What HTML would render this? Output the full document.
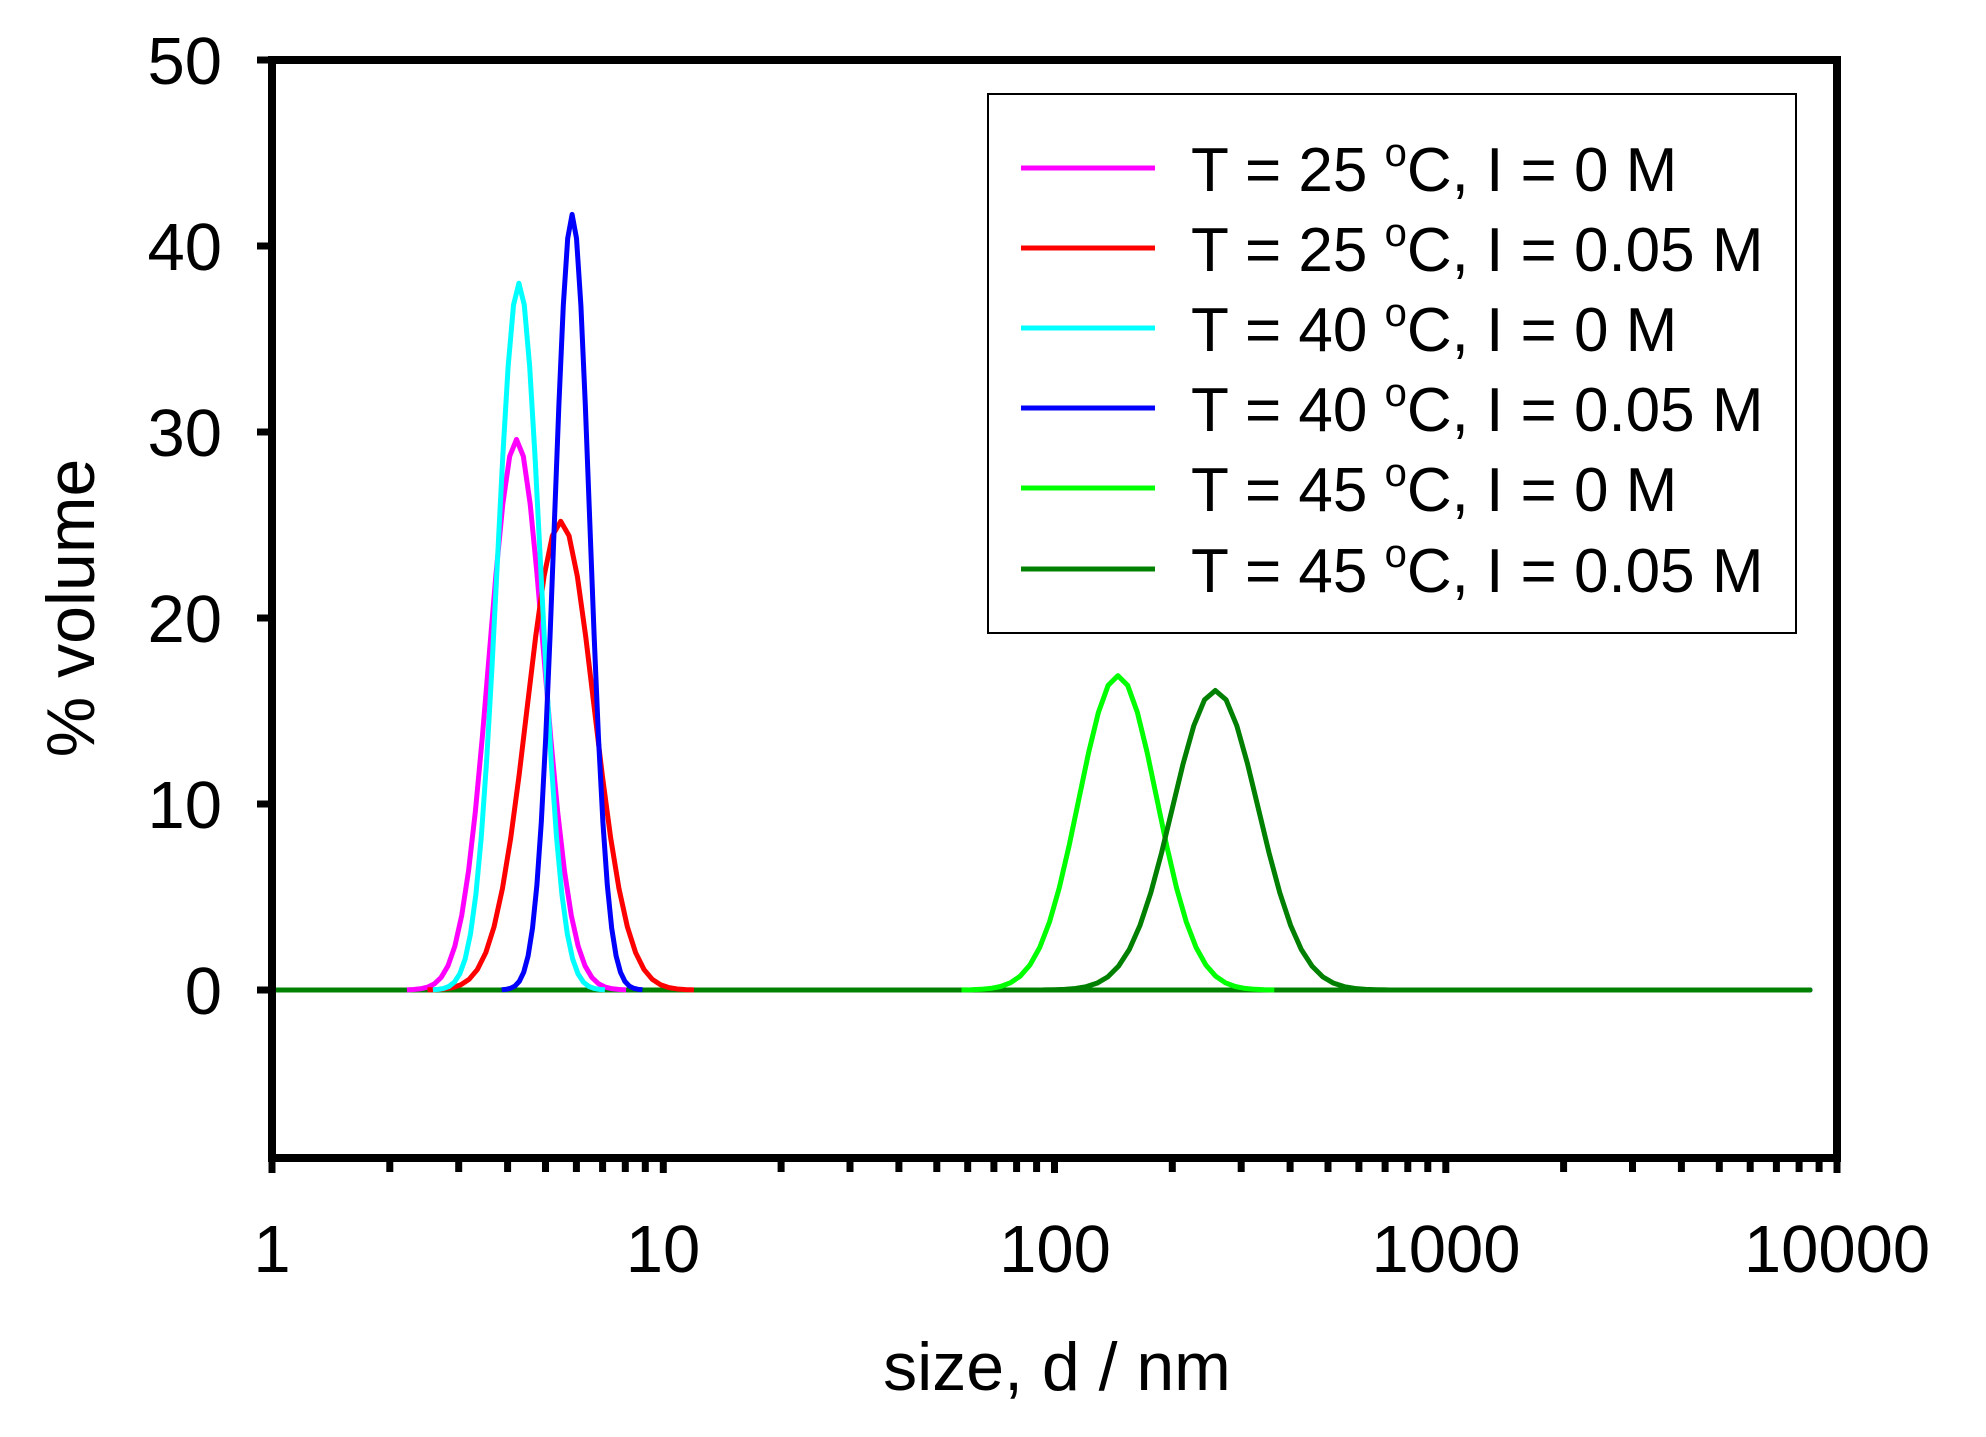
<!DOCTYPE html>
<html><head><meta charset="utf-8"><style>
html,body{margin:0;padding:0;background:#fff;}
svg{display:block;font-family:"Liberation Sans",Arial,sans-serif;}
</style></head><body>
<svg width="1986" height="1437" viewBox="0 0 1986 1437" xmlns="http://www.w3.org/2000/svg">
<g fill="none" stroke-width="5" stroke-linejoin="round" stroke-linecap="round">
<line x1="272" y1="990" x2="1810" y2="990" stroke="#00ff00"/>
<line x1="272" y1="990" x2="1810" y2="990" stroke="#ff00ff"/>
<line x1="272" y1="990" x2="1810" y2="990" stroke="#ff0000"/>
<line x1="272" y1="990" x2="1810" y2="990" stroke="#00ffff"/>
<line x1="272" y1="990" x2="1810" y2="990" stroke="#0000ff"/>
<line x1="272" y1="990" x2="1810" y2="990" stroke="#008000"/>
</g>
<g fill="none" stroke-width="5" stroke-linejoin="round">
<g transform="translate(1117.9,990) scale(39.1,314.3)"><path d="M-4 -0.0003 L-3.75 -0.0009 L-3.5 -0.0022 L-3.25 -0.0051 L-3 -0.0111 L-2.75 -0.0228 L-2.5 -0.0439 L-2.25 -0.0796 L-2 -0.1353 L-1.75 -0.2163 L-1.5 -0.3247 L-1.25 -0.4578 L-1 -0.6065 L-0.75 -0.7548 L-0.5 -0.8825 L-0.25 -0.9692 L0 -1 L0.25 -0.9692 L0.5 -0.8825 L0.75 -0.7548 L1 -0.6065 L1.25 -0.4578 L1.5 -0.3247 L1.75 -0.2163 L2 -0.1353 L2.25 -0.0796 L2.5 -0.0439 L2.75 -0.0228 L3 -0.0111 L3.25 -0.0051 L3.5 -0.0022 L3.75 -0.0009 L4 -0.0003" stroke="#00ff00" vector-effect="non-scaling-stroke"/></g>
<g transform="translate(516.5,990) scale(27.4,550.6)"><path d="M-4 -0.0003 L-3.75 -0.0009 L-3.5 -0.0022 L-3.25 -0.0051 L-3 -0.0111 L-2.75 -0.0228 L-2.5 -0.0439 L-2.25 -0.0796 L-2 -0.1353 L-1.75 -0.2163 L-1.5 -0.3247 L-1.25 -0.4578 L-1 -0.6065 L-0.75 -0.7548 L-0.5 -0.8825 L-0.25 -0.9692 L0 -1 L0.25 -0.9692 L0.5 -0.8825 L0.75 -0.7548 L1 -0.6065 L1.25 -0.4578 L1.5 -0.3247 L1.75 -0.2163 L2 -0.1353 L2.25 -0.0796 L2.5 -0.0439 L2.75 -0.0228 L3 -0.0111 L3.25 -0.0051 L3.5 -0.0022 L3.75 -0.0009 L4 -0.0003" stroke="#ff00ff" vector-effect="non-scaling-stroke"/></g>
<g transform="translate(560.7,990) scale(33.3,468.7)"><path d="M-4 -0.0003 L-3.75 -0.0009 L-3.5 -0.0022 L-3.25 -0.0051 L-3 -0.0111 L-2.75 -0.0228 L-2.5 -0.0439 L-2.25 -0.0796 L-2 -0.1353 L-1.75 -0.2163 L-1.5 -0.3247 L-1.25 -0.4578 L-1 -0.6065 L-0.75 -0.7548 L-0.5 -0.8825 L-0.25 -0.9692 L0 -1 L0.25 -0.9692 L0.5 -0.8825 L0.75 -0.7548 L1 -0.6065 L1.25 -0.4578 L1.5 -0.3247 L1.75 -0.2163 L2 -0.1353 L2.25 -0.0796 L2.5 -0.0439 L2.75 -0.0228 L3 -0.0111 L3.25 -0.0051 L3.5 -0.0022 L3.75 -0.0009 L4 -0.0003" stroke="#ff0000" vector-effect="non-scaling-stroke"/></g>
<g transform="translate(518.9,990) scale(21.5,706.8)"><path d="M-4 -0.0003 L-3.75 -0.0009 L-3.5 -0.0022 L-3.25 -0.0051 L-3 -0.0111 L-2.75 -0.0228 L-2.5 -0.0439 L-2.25 -0.0796 L-2 -0.1353 L-1.75 -0.2163 L-1.5 -0.3247 L-1.25 -0.4578 L-1 -0.6065 L-0.75 -0.7548 L-0.5 -0.8825 L-0.25 -0.9692 L0 -1 L0.25 -0.9692 L0.5 -0.8825 L0.75 -0.7548 L1 -0.6065 L1.25 -0.4578 L1.5 -0.3247 L1.75 -0.2163 L2 -0.1353 L2.25 -0.0796 L2.5 -0.0439 L2.75 -0.0228 L3 -0.0111 L3.25 -0.0051 L3.5 -0.0022 L3.75 -0.0009 L4 -0.0003" stroke="#00ffff" vector-effect="non-scaling-stroke"/></g>
<g transform="translate(572.1,990) scale(17.6,775.6)"><path d="M-4 -0.0003 L-3.75 -0.0009 L-3.5 -0.0022 L-3.25 -0.0051 L-3 -0.0111 L-2.75 -0.0228 L-2.5 -0.0439 L-2.25 -0.0796 L-2 -0.1353 L-1.75 -0.2163 L-1.5 -0.3247 L-1.25 -0.4578 L-1 -0.6065 L-0.75 -0.7548 L-0.5 -0.8825 L-0.25 -0.9692 L0 -1 L0.25 -0.9692 L0.5 -0.8825 L0.75 -0.7548 L1 -0.6065 L1.25 -0.4578 L1.5 -0.3247 L1.75 -0.2163 L2 -0.1353 L2.25 -0.0796 L2.5 -0.0439 L2.75 -0.0228 L3 -0.0111 L3.25 -0.0051 L3.5 -0.0022 L3.75 -0.0009 L4 -0.0003" stroke="#0000ff" vector-effect="non-scaling-stroke"/></g>
<g transform="translate(1215.3,990) scale(43,299.5)"><path d="M-4 -0.0003 L-3.75 -0.0009 L-3.5 -0.0022 L-3.25 -0.0051 L-3 -0.0111 L-2.75 -0.0228 L-2.5 -0.0439 L-2.25 -0.0796 L-2 -0.1353 L-1.75 -0.2163 L-1.5 -0.3247 L-1.25 -0.4578 L-1 -0.6065 L-0.75 -0.7548 L-0.5 -0.8825 L-0.25 -0.9692 L0 -1 L0.25 -0.9692 L0.5 -0.8825 L0.75 -0.7548 L1 -0.6065 L1.25 -0.4578 L1.5 -0.3247 L1.75 -0.2163 L2 -0.1353 L2.25 -0.0796 L2.5 -0.0439 L2.75 -0.0228 L3 -0.0111 L3.25 -0.0051 L3.5 -0.0022 L3.75 -0.0009 L4 -0.0003" stroke="#008000" vector-effect="non-scaling-stroke"/></g>
</g>
<rect x="272" y="60" width="1565" height="1098" fill="none" stroke="#000" stroke-width="8"/>
<g stroke="#000" stroke-width="7">
<line x1="257" y1="60" x2="272" y2="60"/><line x1="257" y1="246" x2="272" y2="246"/><line x1="257" y1="432" x2="272" y2="432"/><line x1="257" y1="618" x2="272" y2="618"/><line x1="257" y1="804" x2="272" y2="804"/><line x1="257" y1="990" x2="272" y2="990"/>
<line x1="272" y1="1158" x2="272" y2="1173"/><line x1="389.8" y1="1158" x2="389.8" y2="1172"/><line x1="458.7" y1="1158" x2="458.7" y2="1172"/><line x1="507.6" y1="1158" x2="507.6" y2="1172"/><line x1="545.5" y1="1158" x2="545.5" y2="1172"/><line x1="576.4" y1="1158" x2="576.4" y2="1172"/><line x1="602.6" y1="1158" x2="602.6" y2="1172"/><line x1="625.3" y1="1158" x2="625.3" y2="1172"/><line x1="645.3" y1="1158" x2="645.3" y2="1172"/>
<line x1="663.3" y1="1158" x2="663.3" y2="1173"/><line x1="781.1" y1="1158" x2="781.1" y2="1172"/><line x1="850" y1="1158" x2="850" y2="1172"/><line x1="898.9" y1="1158" x2="898.9" y2="1172"/><line x1="936.8" y1="1158" x2="936.8" y2="1172"/><line x1="967.7" y1="1158" x2="967.7" y2="1172"/><line x1="993.9" y1="1158" x2="993.9" y2="1172"/><line x1="1016.6" y1="1158" x2="1016.6" y2="1172"/><line x1="1036.6" y1="1158" x2="1036.6" y2="1172"/>
<line x1="1054.5" y1="1158" x2="1054.5" y2="1173"/><line x1="1172.3" y1="1158" x2="1172.3" y2="1172"/><line x1="1241.2" y1="1158" x2="1241.2" y2="1172"/><line x1="1290.1" y1="1158" x2="1290.1" y2="1172"/><line x1="1328" y1="1158" x2="1328" y2="1172"/><line x1="1358.9" y1="1158" x2="1358.9" y2="1172"/><line x1="1385.1" y1="1158" x2="1385.1" y2="1172"/><line x1="1407.8" y1="1158" x2="1407.8" y2="1172"/><line x1="1427.8" y1="1158" x2="1427.8" y2="1172"/>
<line x1="1445.8" y1="1158" x2="1445.8" y2="1173"/><line x1="1563.6" y1="1158" x2="1563.6" y2="1172"/><line x1="1632.5" y1="1158" x2="1632.5" y2="1172"/><line x1="1681.4" y1="1158" x2="1681.4" y2="1172"/><line x1="1719.3" y1="1158" x2="1719.3" y2="1172"/><line x1="1750.2" y1="1158" x2="1750.2" y2="1172"/><line x1="1776.4" y1="1158" x2="1776.4" y2="1172"/><line x1="1799.1" y1="1158" x2="1799.1" y2="1172"/><line x1="1819.1" y1="1158" x2="1819.1" y2="1172"/><line x1="1837" y1="1158" x2="1837" y2="1173"/>
</g>
<g font-size="67" fill="#000">
<text x="222" y="84" text-anchor="end">50</text>
<text x="222" y="270" text-anchor="end">40</text>
<text x="222" y="456" text-anchor="end">30</text>
<text x="222" y="642" text-anchor="end">20</text>
<text x="222" y="828" text-anchor="end">10</text>
<text x="222" y="1014" text-anchor="end">0</text>
<text x="272" y="1272" text-anchor="middle">1</text>
<text x="663" y="1272" text-anchor="middle">10</text>
<text x="1055" y="1272" text-anchor="middle">100</text>
<text x="1446" y="1272" text-anchor="middle">1000</text>
<text x="1837" y="1272" text-anchor="middle">10000</text>
</g>
<g font-size="68" fill="#000">
<text x="1057" y="1390" text-anchor="middle">size, d / nm</text>
<text transform="translate(94,608) rotate(-90)" text-anchor="middle">% volume</text>
</g>
<rect x="988" y="94" width="808" height="539" fill="none" stroke="#000" stroke-width="2"/>
<g stroke-width="5">
<line x1="1021" y1="168" x2="1155" y2="168" stroke="#ff00ff"/>
<line x1="1021" y1="248" x2="1155" y2="248" stroke="#ff0000"/>
<line x1="1021" y1="328" x2="1155" y2="328" stroke="#00ffff"/>
<line x1="1021" y1="408" x2="1155" y2="408" stroke="#0000ff"/>
<line x1="1021" y1="488" x2="1155" y2="488" stroke="#00ff00"/>
<line x1="1021" y1="569" x2="1155" y2="569" stroke="#008000"/>
</g>
<g font-size="62" fill="#000">
<text x="1191" y="191">T = 25 <tspan dy="-25" font-size="40">o</tspan><tspan dy="25">C, I = 0 M</tspan></text>
<text x="1191" y="271">T = 25 <tspan dy="-25" font-size="40">o</tspan><tspan dy="25">C, I = 0.05 M</tspan></text>
<text x="1191" y="351">T = 40 <tspan dy="-25" font-size="40">o</tspan><tspan dy="25">C, I = 0 M</tspan></text>
<text x="1191" y="431">T = 40 <tspan dy="-25" font-size="40">o</tspan><tspan dy="25">C, I = 0.05 M</tspan></text>
<text x="1191" y="511">T = 45 <tspan dy="-25" font-size="40">o</tspan><tspan dy="25">C, I = 0 M</tspan></text>
<text x="1191" y="592">T = 45 <tspan dy="-25" font-size="40">o</tspan><tspan dy="25">C, I = 0.05 M</tspan></text>
</g>
</svg>
</body></html>
